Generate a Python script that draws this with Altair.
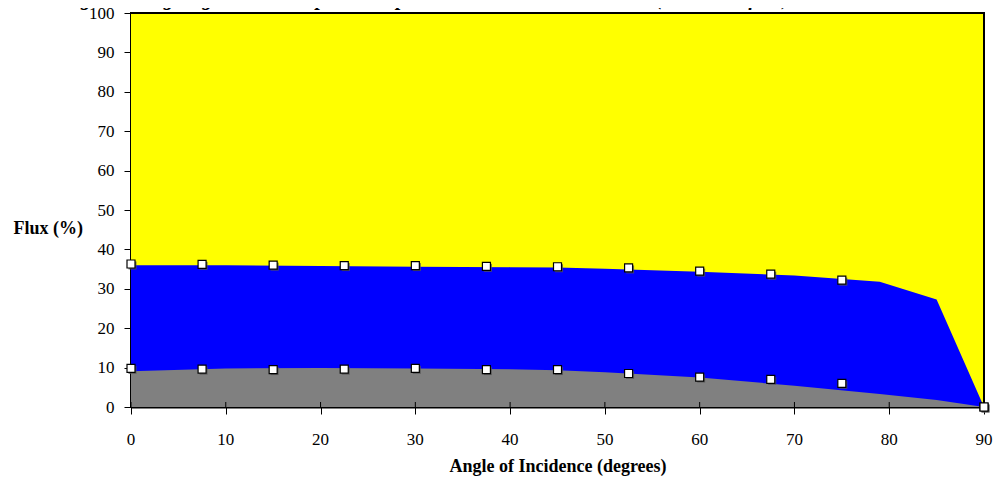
import altair as alt
import pandas as pd

# --- data ---
area_angles = [0, 10, 20, 30, 40, 45, 50, 60, 70, 79, 85, 90]
area_total = [100, 100, 100, 100, 100, 100, 100, 100, 100, 100, 100, 100]
area_blue_top = [36.0, 36.0, 35.8, 35.6, 35.5, 35.4, 35.1, 34.3, 33.4, 31.8, 27.3, 0.0]
area_gray_top = [9.1, 9.8, 9.9, 9.8, 9.6, 9.3, 8.8, 7.5, 5.4, 3.3, 1.8, 0.0]

marker_angles = [0, 7.5, 15, 22.5, 30, 37.5, 45, 52.5, 60, 67.5, 75, 90]
marker_upper = [36.3, 36.2, 36.0, 35.9, 35.9, 35.7, 35.6, 35.3, 34.5, 33.7, 32.2, 0.0]
marker_lower = [9.8, 9.6, 9.5, 9.6, 9.8, 9.5, 9.5, 8.5, 7.6, 7.0, 6.0, 0.0]

x_ticks = [0, 10, 20, 30, 40, 50, 60, 70, 80, 90]
x_tick_labels = ["0", "10", "20", "30", "40", "50", "60", "70", "80", "90"]
y_ticks = [0, 10, 20, 30, 40, 50, 60, 70, 80, 90, 100]

title_text = "Figure 6.4.1g Angular Solar Optical Properties: Wimbledon Membrane (Inside Surface)"

W, H = 853, 394
FONT = "Liberation Serif"

area_df = pd.DataFrame({
    "angle": area_angles,
    "total": area_total,
    "blue": area_blue_top,
    "gray": area_gray_top,
})
marker_df = pd.concat([
    pd.DataFrame({"angle": marker_angles, "flux": marker_upper}),
    pd.DataFrame({"angle": marker_angles, "flux": marker_lower}),
], ignore_index=True)
tick_df = pd.DataFrame({"angle": x_ticks, "label": x_tick_labels})

xscale = alt.Scale(domain=[0, 90], nice=False, zero=False)
yscale = alt.Scale(domain=[0, 100], nice=False)

x_axis = alt.Axis(values=x_ticks, title="Angle of Incidence (degrees)")
y_axis = alt.Axis(values=y_ticks, title="Flux (%)")

X = alt.X("angle:Q", scale=xscale, axis=x_axis)


def Y(field):
    return alt.Y(field, scale=yscale, axis=y_axis)


base = alt.Chart(area_df)

yellow = base.mark_area(color="#FFFF00", opacity=1).encode(x=X, y=Y("total:Q"))
blue = base.mark_area(color="#0000FF", opacity=1).encode(x=X, y=Y("blue:Q"))
gray = base.mark_area(color="#808080", opacity=1).encode(x=X, y=Y("gray:Q"))

inner_ticks = alt.Chart(tick_df).mark_rule(color="black", strokeWidth=1).encode(
    x=X,
    y=alt.value(H - 5),
    y2=alt.value(H),
)

x_labels = alt.Chart(tick_df).mark_text(
    font=FONT, fontSize=17, color="black", baseline="middle", align="center"
).encode(
    x=X,
    y=alt.value(H + 33),
    text="label:N",
)

top_border = alt.Chart(tick_df).mark_rule(color="black", strokeWidth=2).encode(
    x=alt.value(0), x2=alt.value(W), y=alt.value(0)
)
right_border = alt.Chart(tick_df).mark_rule(color="black", strokeWidth=2).encode(
    x=alt.value(W), y=alt.value(0), y2=alt.value(H)
)

shadow = alt.Chart(marker_df).mark_square(
    size=64, color="#555555", opacity=0.8, filled=True, xOffset=1.5, yOffset=1.5
).encode(x=X, y=Y("flux:Q"))
markers = alt.Chart(marker_df).mark_square(
    size=64, fill="white", stroke="black", strokeWidth=1.2, filled=True, opacity=1
).encode(x=X, y=Y("flux:Q"))

title_mark = alt.Chart(pd.DataFrame({"t": [title_text]})).mark_text(
    font=FONT, fontSize=20, fontWeight="bold", fontStyle="italic", align="left",
    baseline="alphabetic", color="black",
).encode(
    text="t:N",
    x=alt.value(-69),
    y=alt.value(-8.5),
)

chart = alt.layer(
    yellow, blue, gray, inner_ticks, x_labels, top_border, right_border,
    shadow, markers, title_mark
).properties(
    width=W, height=H,
    background="white",
    autosize=alt.AutoSizeParams(type="none"),
    padding={"left": 123, "top": 5, "right": 10, "bottom": 80},
).configure_view(
    stroke="black", strokeWidth=2
).configure_axis(
    grid=False, labelFont=FONT, labelFontSize=17, labelColor="black",
    labelOverlap=False, tickColor="black", tickSize=7, tickWidth=1,
    domainColor="black", domainWidth=2, zindex=1,
    titleFont=FONT, titleFontSize=18, titleFontWeight="bold", titleColor="black",
).configure_axisX(
    labels=False, titleY=64, titleBaseline="alphabetic",
).configure_axisY(
    labelPadding=10, titleAngle=0, titleAlign="left", titleBaseline="middle",
    titleX=-118, titleY=215,
)

chart.save("out.html", embed_options={"renderer": "svg", "actions": False})
